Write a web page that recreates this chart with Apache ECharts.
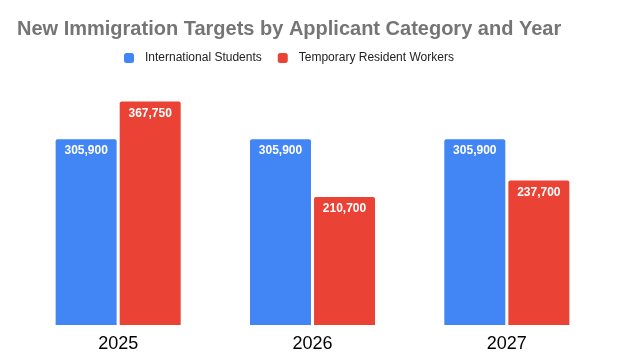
<!DOCTYPE html>
<html><head><meta charset="utf-8">
<script src="https://cdn.jsdelivr.net/npm/echarts@6/dist/echarts.min.js"></script>
<style>html,body{margin:0;padding:0;background:#fff}#c{width:617px;height:363px}</style>
</head><body><div id="c"></div>
<script>
const categories = ['2025', '2026', '2027'];
const internationalStudents = [305900, 305900, 305900];
const temporaryResidentWorkers = [367750, 210700, 237700];
const seriesNames = ['International Students', 'Temporary Resident Workers'];

const chart = echarts.init(document.getElementById('c'), null, {renderer: 'canvas'});
const fontFamily = '"Liberation Sans", Arial, sans-serif';
const labelCfg = {
  show: true, position: 'insideTop', distance: 6,
  color: '#fff', fontWeight: 'bold', fontSize: 12, fontFamily,
  formatter: p => p.value.toLocaleString('en-US')
};
chart.setOption({
  animation: false,
  title: {
    text: 'New Immigration Targets by Applicant Category and Year',
    left: 12, top: 14,
    textStyle: {color: '#757575', fontSize: 20, fontWeight: 'bold', fontFamily}
  },
  legend: {
    top: 52, left: 124, padding: 0,
    itemWidth: 10, itemHeight: 10, itemGap: 16,
    icon: 'roundRect',
    textStyle: {color: '#222', fontSize: 12, fontFamily, padding: [0, 0, 0, 6]}
  },
  grid: {left: 21, right: 13, top: 82, bottom: 38, containLabel: false},
  xAxis: {
    type: 'category', data: categories,
    axisLine: {show: false}, axisTick: {show: false},
    axisLabel: {color: '#000', fontSize: 18, fontFamily, margin: 10}
  },
  yAxis: {
    type: 'value', min: 0, max: 400000, interval: 100000,
    show: false, splitLine: {show: false}
  },
  series: [
    {name: seriesNames[0], type: 'bar', data: internationalStudents, barWidth: 61, barGap: '5%',
     itemStyle: {color: '#4285F4', borderRadius: [2, 2, 0, 0]}, label: labelCfg},
    {name: seriesNames[1], type: 'bar', data: temporaryResidentWorkers, barWidth: 61,
     itemStyle: {color: '#EA4335', borderRadius: [2, 2, 0, 0]}, label: labelCfg}
  ]
});
</script></body></html>
